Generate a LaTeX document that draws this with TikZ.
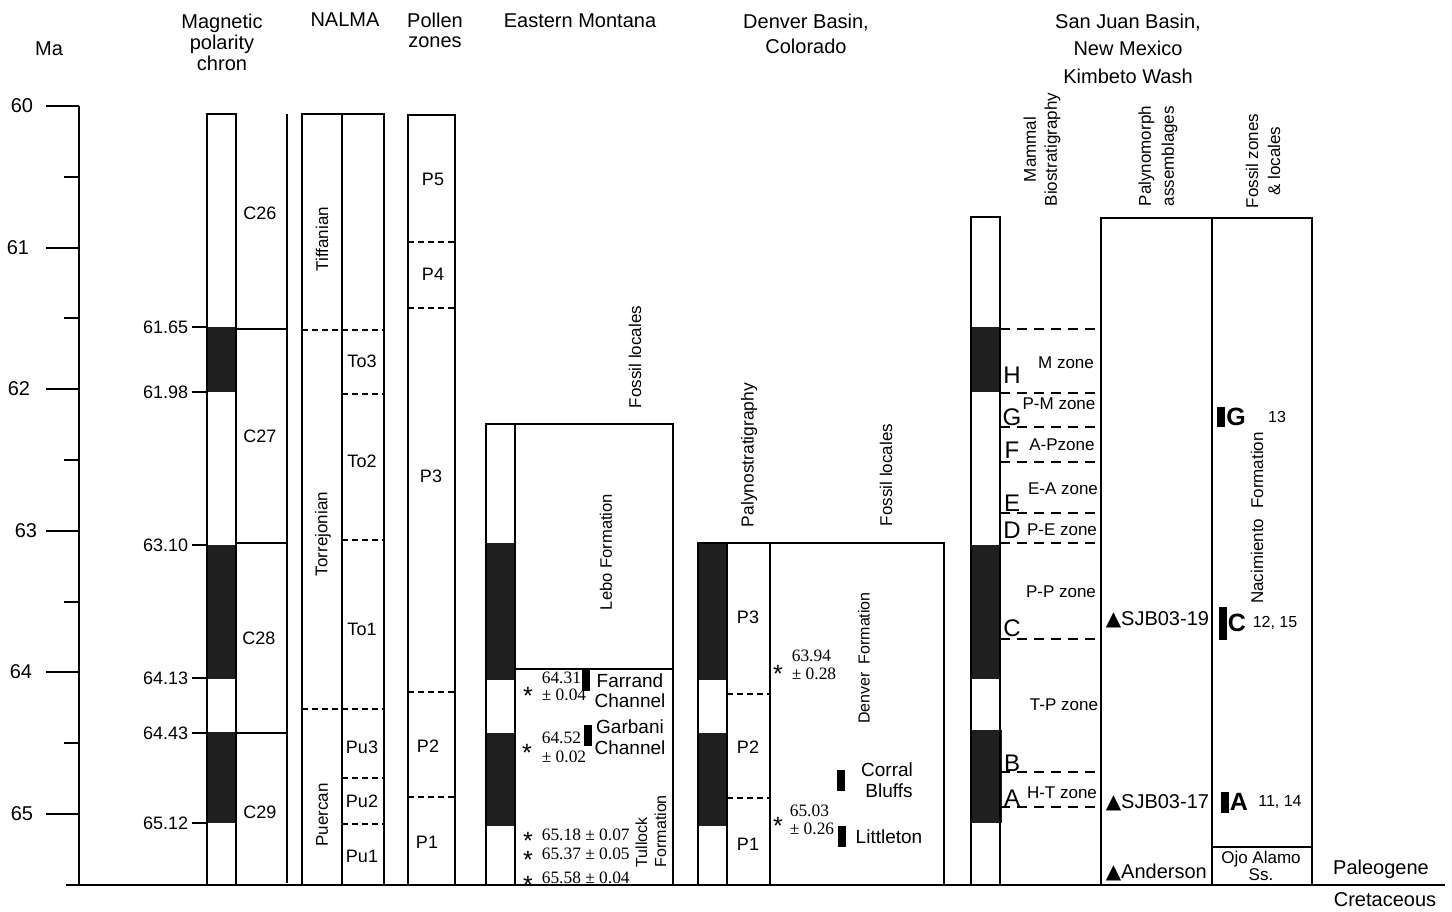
\documentclass[tikz,border=0pt]{standalone}
\usepackage{fontspec}
\setmainfont{Liberation Sans}
\newfontfamily\datefont{Liberation Serif}
\newfontfamily\trifont{DejaVu Sans}
\newcommand{\tri}{{\trifont\char"25B2}}

\begin{document}
\begin{tikzpicture}[x=0.5pt, y=-0.5pt, line width=0.8pt,
    every node/.style={inner sep=0pt, font=\fontsize{9}{10}\selectfont},
    head/.style={anchor=north, align=center, font=\fontsize{10}{13.5}\selectfont},
    sidehead/.style={rotate=90, align=center, font=\fontsize{8.5}{10.5}\selectfont},
    vlabel/.style={rotate=90, font=\fontsize{8.5}{10}\selectfont},
    revband/.style={fill=black!88},
    axisline/.style={line width=1.2pt},
    zonedash/.style={line width=0.7pt, dash pattern=on 3pt off 2pt},
    sjdash/.style={line width=0.8pt, dash pattern=on 5pt off 3.5pt},
    datum/.style={anchor=base west, font=\datefont\fontsize{8.7}{10}\selectfont},
    datestar/.style={anchor=base, font=\fontsize{12.5}{13}\selectfont},
    locname/.style={font=\fontsize{9.5}{10}\selectfont},
    zoneletter/.style={font=\fontsize{12}{12}\selectfont},
    zonename/.style={font=\fontsize{8.5}{10}\selectfont},
    fzone/.style={font=\bfseries\fontsize{12.5}{13}\selectfont},
    fnum/.style={font=\fontsize{8}{9}\selectfont}]

\useasboundingbox (0,0) rectangle (1452,911);

% time scale
\node[font=\fontsize{10}{12}\selectfont] (ma) at (49,49) {Ma};
\draw[axisline] (79,106) -- (79,885);
\foreach \ma/\yy/\xx in {60/106/22, 61/248/18, 62/389/19, 63/531/26, 64/672/21, 65/814/22} {
  \draw[axisline] (46,\yy) -- (79,\yy);
  \node[font=\fontsize{10}{12}\selectfont] (ma\ma) at (\xx,\yy) {\ma};
}
\foreach \yy in {177,318,460,602,743} \draw[axisline] (64,\yy) -- (79,\yy);
\draw[axisline] (66,885) -- (1445,885);

% headers
\node[head, font=\fontsize{10}{10.5}\selectfont] (hmag) at (222,13) {Magnetic\\polarity\\chron};
\node[head] (hnalma) at (345,12) {NALMA};
\node[head, font=\fontsize{10}{10}\selectfont] (hpollen) at (435,12) {Pollen\\zones};
\node[head] (hmont) at (580,13) {Eastern Montana};
\node[head, font=\fontsize{10}{12.5}\selectfont] (hden) at (806,13) {Denver Basin,\\Colorado};
\node[head, font=\fontsize{10}{13.75}\selectfont] (hsj) at (1128,13) {San Juan Basin,\\New Mexico\\Kimbeto Wash};

% magnetic polarity
\foreach \a/\b in {327/392, 545/679, 732/823} \fill[revband] (207,\a) rectangle (236,\b);
\draw (207,114) rectangle (236,885);
\foreach \ag/\yy in {61.65/327, 61.98/392, 63.10/545, 64.13/678, 64.43/733, 65.12/823} {
  \draw (192,\yy) -- (207,\yy);
  \node[anchor=east] (age\yy) at (189,\yy) {\ag};
}
\draw (287,114) -- (287,883);
\foreach \yy in {329,543,733} \draw (236,\yy) -- (287,\yy);
\foreach \c/\xx/\yy in {C26/260/213, C27/260/436, C28/259/638, C29/260/812}
  \node (\c) at (\xx,\yy) {\c};

% NALMA
\draw (302,114) rectangle (384,885);
\draw (342,114) -- (342,885);
\draw[zonedash] (302,330) -- (384,330);
\draw[zonedash] (302,709) -- (384,709);
\foreach \yy in {394,540,778,824} \draw[zonedash] (342,\yy) -- (384,\yy);
\node[vlabel] (tiff) at (322,239) {Tiffanian};
\node[vlabel] (torr) at (323,534) {Torrejonian};
\node[vlabel] (puer) at (322,815) {Puercan};
\foreach \z/\yy in {To3/361, To2/461, To1/629, Pu3/747, Pu2/801, Pu1/856}
  \node (\z) at (362,\yy) {\z};

% pollen zones
\draw (408,115) rectangle (455,885);
\foreach \yy in {242,308,692,797} \draw[zonedash] (408,\yy) -- (455,\yy);
\foreach \p/\xx/\yy in {P5/433/179, P4/433/274, P3/431/476, P2/428/746, P1/427/842}
  \node (pz\p) at (\xx,\yy) {\p};

% Eastern Montana
\foreach \a/\b in {543/680, 733/826} \fill[revband] (486,\a) rectangle (515,\b);
\draw (486,424) rectangle (515,885);
\draw (515,424) rectangle (673,885);
\draw (515,669) -- (673,669);
\node[sidehead] (mfoss) at (635,357) {Fossil locales};
\node[vlabel, font=\fontsize{8.3}{9}\selectfont] (lebo) at (606,552) {Lebo Formation};
\node[rotate=90, anchor=west, align=left, font=\fontsize{8}{9.5}\selectfont] (tullock) at (651,868) {Tullock\\Formation};
\fill (582,669) rectangle (590,691);
\fill (584,725) rectangle (592,746);
\node[locname] (farr1) at (630,681) {Farrand};
\node[locname] (farr2) at (630,701) {Channel};
\node[locname] (garb1) at (630,727) {Garbani};
\node[locname] (garb2) at (630,748) {Channel};
\foreach \xx/\yy in {528/704, 527/761, 528/849, 528/868, 528/893} \node[datestar] at (\xx,\yy) {\smash{*}};
\node[datum] (m1a) at (541,683) {64.31};
\node[datum] (m1b) at (541,700) {± 0.04};
\node[datum] (m2a) at (541,743) {64.52};
\node[datum] (m2b) at (541,762) {± 0.02};
\node[datum] (m3) at (541,840) {65.18 ± 0.07};
\node[datum] (m4) at (541,859) {65.37 ± 0.05};
\node[datum] (m5) at (541,883) {65.58 ± 0.04};

% Denver Basin
\foreach \a/\b in {543/680, 733/826} \fill[revband] (698,\a) rectangle (727,\b);
\draw (698,543) rectangle (727,885);
\draw (727,543) rectangle (770,885);
\draw (770,543) rectangle (944,885);
\foreach \yy in {694,798} \draw[zonedash] (727,\yy) -- (770,\yy);
\node[sidehead, font=\fontsize{8.7}{10}\selectfont] (palyno) at (749,455) {Palynostratigraphy};
\node[sidehead] (dfoss) at (886,475) {Fossil locales};
\node[vlabel, font=\fontsize{8}{9}\selectfont] (denv) at (864,658) {Denver\hspace{4pt}Formation};
\foreach \p/\yy in {P3/617, P2/747, P1/844} \node (dp\p) at (748,\yy) {\p};
\foreach \yy in {682,834} \node[datestar] at (778,\yy) {\smash{*}};
\node[datum] (d1a) at (791,661) {63.94};
\node[datum] (d1b) at (791,679) {± 0.28};
\node[datum] (d2a) at (789,816) {65.03};
\node[datum] (d2b) at (789,834) {± 0.26};
\fill (837,770) rectangle (845,791);
\fill (838,826) rectangle (846,847);
\node[locname] (corr1) at (887,770) {Corral};
\node[locname] (corr2) at (889,791) {Bluffs};
\node[locname] (litt) at (889,837) {Littleton};

% San Juan Basin
\fill[revband] (971,327) rectangle (1000,392);
\fill[revband] (971,545) rectangle (1000,679);
\fill[revband] (971,730) rectangle (1002,823);
\draw (971,217) rectangle (1000,885);
\draw (1101,218) rectangle (1212,885);
\draw (1212,218) rectangle (1312,885);
\draw (1212,847) -- (1312,847);
\foreach \yy in {329,393,427,462,513,543,639,772,807} \draw[sjdash] (1000,\yy) -- (1101,\yy);
\node[sidehead, anchor=west] (mamm) at (1042,207) {Mammal\\Biostratigraphy};
\node[sidehead, anchor=west, align=left, font=\fontsize{8.5}{11.5}\selectfont] (palas) at (1158,207) {Palynomorph\\assemblages};
\node[sidehead, font=\fontsize{8.5}{11}\selectfont] (fzl) at (1263,161) {Fossil zones\\\& locales};
\foreach \l/\yy in {H/375, G/417, F/450, E/503, D/530, C/628, B/763, A/798}
  \node[zoneletter] (zl\l) at (1012,\yy) {\l};
\foreach \t/\xx/\yy in {M zone/1066/363, P-M zone/1059/404, A-Pzone/1062/445, E-A zone/1063/489, P-E zone/1062/530, P-P zone/1061/592, T-P zone/1064/705, H-T zone/1062/793}
  \node[zonename] (zn\yy) at (\xx,\yy) {\t};
\node[anchor=west, font=\fontsize{10}{12}\selectfont] (sjb19) at (1105,620) {\tri SJB03-19};
\node[anchor=west, font=\fontsize{10}{12}\selectfont] (sjb17) at (1105,803) {\tri SJB03-17};
\node[anchor=west, font=\fontsize{10}{12}\selectfont] (ander) at (1105,872) {\tri Anderson};
\node[vlabel] (naci) at (1257,518) {Nacimiento\hspace{5pt}Formation};
\fill (1217,407) rectangle (1225,427);
\fill (1219,607) rectangle (1227,640);
\fill (1221,792) rectangle (1229,813);
\node[fzone] (fzG) at (1236,417) {G};
\node[fzone] (fzC) at (1237,623) {C};
\node[fzone] (fzA) at (1239,802) {A};
\node[fnum] (fnG) at (1277,417) {13};
\node[fnum] (fnC) at (1275,623) {12, 15};
\node[fnum] (fnA) at (1280,802) {11, 14};
\node[align=center, font=\fontsize{8.5}{6.5}\selectfont] (ojo) at (1261,866) {Ojo Alamo\\Ss.};

% periods
\node[font=\fontsize{10}{12}\selectfont] (paleo) at (1381,869) {Paleogene};
\node[font=\fontsize{10}{12}\selectfont] (creta) at (1385,900) {Cretaceous};
\end{tikzpicture}
\end{document}
